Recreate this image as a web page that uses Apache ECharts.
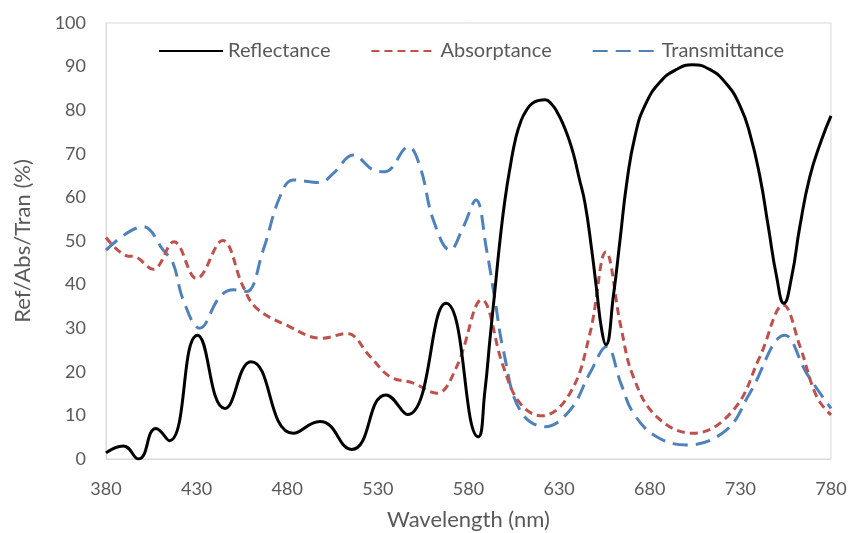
<!DOCTYPE html>
<html>
<head>
<meta charset="utf-8">
<script src="https://cdn.jsdelivr.net/npm/echarts@6/dist/echarts.min.js"></script>
<style>
  html, body { margin: 0; padding: 0; background: #fff; }
  #chart { width: 852px; height: 533px; }
</style>
</head>
<body>
<div id="chart"></div>
<script>
// Wavelength (nm) / value (%) readings for each optical property
const reflWl = [380, 389.6, 397.9, 407.6, 414.9, 430.5, 445.6, 460, 483.3, 498, 515.5, 534.5, 546.3, 567.6, 585.4, 589.1, 591.8, 594.6, 597.4, 600.1, 603, 606, 609, 612, 615, 618.5, 622.2, 626, 629, 632, 635, 638, 641, 644.3, 648, 650.7, 653.5, 655.8, 660, 663.7, 667.4, 672, 677.5, 685.8, 695, 703.5, 713.3, 722.4, 729.8, 735.2, 740.8, 745.4, 750, 754, 758.3, 762.8, 768.3, 774.8, 780];
const reflVal = [1.4, 3.0, 0, 7.0, 4.2, 28.4, 11.6, 22.3, 5.9, 8.6, 2.2, 14.7, 10.2, 35.7, 5.1, 15.8, 27.3, 38.8, 50.2, 59.4, 67.0, 73.5, 77.6, 80.0, 81.5, 82.2, 82.4, 81.3, 79.5, 77.0, 73.8, 69.8, 64.5, 58.6, 47.9, 38.8, 29.6, 26.2, 37.6, 50.6, 63.6, 74.3, 81.2, 86.5, 89.4, 90.4, 89.3, 86.0, 81.0, 74.7, 64.7, 53.3, 41.8, 35.7, 41.8, 53.3, 64.7, 73.2, 78.7];

const absWl = [380, 391.4, 396, 406, 417.5, 430, 444.3, 455.7, 463, 479.6, 499, 512.8, 525.7, 536.7, 549.6, 562.5, 573.5, 587.3, 599.2, 608.4, 620.4, 636, 647, 655.8, 664, 670.9, 683.8, 704, 726.1, 740.8, 753.7, 762.9, 772.1, 780];
const absVal = [50.8, 46.6, 46.4, 43.5, 49.8, 41.4, 50.1, 39.5, 34.6, 30.7, 27.7, 28.8, 23.5, 18.9, 17.4, 15.1, 21.2, 36.5, 21.2, 12.8, 9.9, 15.1, 28.8, 47.5, 30.5, 18.9, 9.7, 5.9, 11.2, 23.5, 35.3, 25.8, 14.3, 10.1];

const tranWl = [380, 400.5, 411.6, 417, 422.6, 431.7, 442.8, 450.2, 457.5, 466.7, 476, 483.3, 498, 505.4, 516.4, 527.5, 534, 546.8, 553.3, 560.6, 569.8, 577.2, 584.1, 590, 594.6, 599.2, 608.4, 622.2, 636, 647, 656.2, 664, 671, 683.8, 700.3, 722.4, 735.2, 754.6, 766.5, 780];
const tranVal = [47.9, 53.3, 47.9, 44.9, 36.5, 30.0, 37.2, 38.8, 38.4, 47.9, 60.2, 64.0, 63.4, 65.5, 69.7, 66.3, 65.9, 71.6, 67.0, 54.8, 47.9, 53.3, 59.4, 47.9, 36.5, 25.0, 11.2, 7.4, 11.2, 19.7, 25.8, 17.4, 10.5, 5.1, 3.2, 6.7, 15.1, 28.4, 19.7, 11.6];

const xTicks = [380, 430, 480, 530, 580, 630, 680, 730, 780];

const pairs = (xs, ys) => xs.map((x, i) => [x, ys[i]]);

const FONT = 'Lato, "Open Sans", sans-serif';
const TEXT = '#595959';

const chart = echarts.init(document.getElementById('chart'), null, { renderer: 'canvas' });
chart.setOption({
  animation: false,
  backgroundColor: '#fff',
  grid: {
    left: 106, right: 21, top: 23, bottom: 74,
    outerBoundsMode: 'none',
    show: true, borderColor: '#d9d9d9', borderWidth: 1
  },
  legend: {
    top: 36, left: 153,
    itemWidth: 64, itemHeight: 14, itemGap: 40,
    itemStyle: { opacity: 0 },
    textStyle: { color: TEXT, fontSize: 20, fontFamily: FONT }
  },
  xAxis: {
    type: 'value', min: 380, max: 780, interval: 50,
    name: 'Wavelength (nm)', nameLocation: 'middle', nameGap: 50,
    nameTextStyle: { color: TEXT, fontSize: 22, fontFamily: FONT },
    axisLine: { lineStyle: { color: '#d9d9d9' } },
    axisTick: { show: false },
    axisLabel: { color: TEXT, fontSize: 18, fontFamily: FONT, margin: 21,
      formatter: v => xTicks.includes(v) ? String(v) : '' },
    splitLine: { show: false }
  },
  yAxis: {
    type: 'value', min: 0, max: 100, interval: 10,
    name: 'Ref/Abs/Tran (%)', nameLocation: 'middle', nameGap: 72,
    nameTextStyle: { color: TEXT, fontSize: 22, fontFamily: FONT },
    axisLine: { show: true, lineStyle: { color: '#d9d9d9' } },
    axisTick: { show: false },
    axisLabel: { color: TEXT, fontSize: 18, fontFamily: FONT, margin: 20 },
    splitLine: { show: false }
  },
  series: [
    {
      name: 'Reflectance', type: 'line', data: pairs(reflWl, reflVal),
      smooth: 0.5, symbol: 'none',
      lineStyle: { color: '#000', width: 3 }, itemStyle: { color: '#000' }, z: 3
    },
    {
      name: 'Absorptance', type: 'line', data: pairs(absWl, absVal),
      smooth: 0.4, symbol: 'none',
      lineStyle: { color: '#C0504D', width: 3, type: [8, 5] }, itemStyle: { color: '#C0504D' }, z: 2
    },
    {
      name: 'Transmittance', type: 'line', data: pairs(tranWl, tranVal),
      smooth: 0.4, symbol: 'none',
      lineStyle: { color: '#4F81BD', width: 3, type: [15, 8] }, itemStyle: { color: '#4F81BD' }, z: 1
    }
  ]
});
</script>
</body>
</html>
